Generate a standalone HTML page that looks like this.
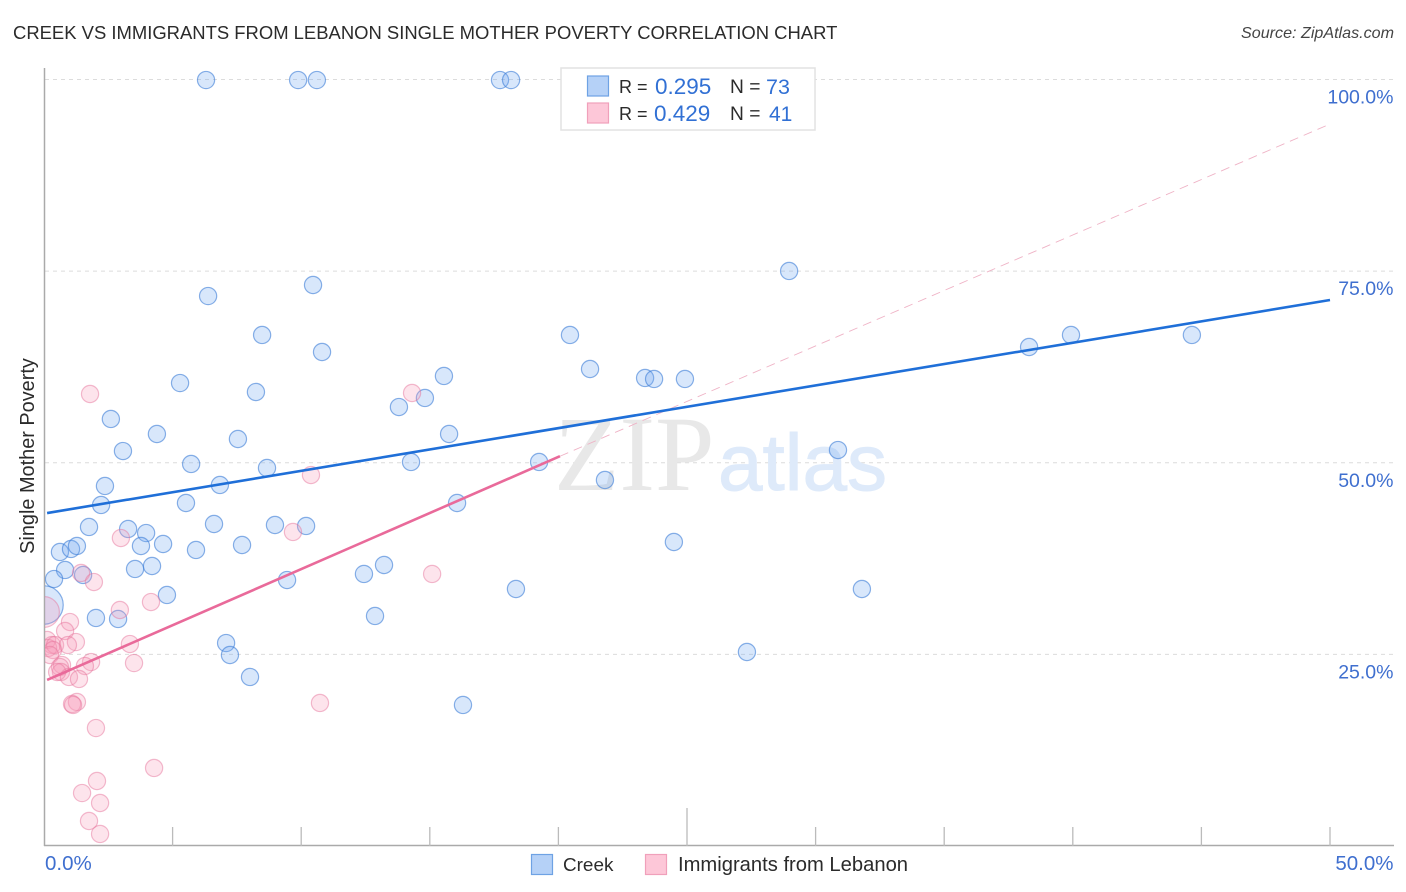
<!DOCTYPE html>
<html>
<head>
<meta charset="utf-8">
<title>Creek vs Immigrants from Lebanon Single Mother Poverty Correlation Chart</title>
<style>
html,body{margin:0;padding:0;background:#fff;}
body{width:1406px;height:892px;overflow:hidden;}
svg{display:block;font-family:"Liberation Sans",sans-serif;}
</style>
</head>
<body>
<svg id="chart" width="1406" height="892" viewBox="0 0 1406 892">
  <defs>
    <clipPath id="plot-clip"><rect x="45" y="60" width="1349" height="786"></rect></clipPath>
  </defs>
  <text x="13" y="39" font-size="18.45" fill="#2b2b2b">CREEK VS IMMIGRANTS FROM LEBANON SINGLE MOTHER POVERTY CORRELATION CHART</text>
  <text x="1394" y="38" font-size="16.1" font-style="italic" fill="#444" text-anchor="end">Source: ZipAtlas.com</text>
  <g id="grid"></g>
  <g>
    <text x="554" y="490" font-family="'Liberation Serif',serif" font-size="107" fill="#e8e8e8">ZIP</text>
    <text x="718" y="490" font-size="80" fill="#deeafa" stroke="#deeafa" stroke-width="1">atlas</text>
  </g>
  <g id="axes"></g>
  <text transform="translate(34 456) rotate(-90)" font-size="19.9" fill="#2b2b2b" text-anchor="middle">Single Mother Poverty</text>
  <g id="points" clip-path="url(#plot-clip)"></g>
  <g id="trends"></g>

  <g>
    <rect x="561" y="68" width="254" height="62" fill="#fff" stroke="#e2e2e2" stroke-width="1.5"></rect>
    <rect x="587.5" y="76" width="21" height="20" fill="#b5d1f7" stroke="#6ea2e4" stroke-width="1.2"></rect>
    <rect x="587.5" y="103" width="21" height="20" fill="#fdc7d8" stroke="#f0a0bb" stroke-width="1.2"></rect>
    <g font-size="19.2">
      <text x="619" y="93" font-size="18" fill="#2b2b2b">R =</text>
      <text x="655" y="94" font-size="22.5" fill="#3170d4">0.295</text>
      <text x="730" y="93" fill="#2b2b2b">N =</text>
      <text x="766" y="94" font-size="21.5" fill="#3170d4">73</text>
      <text x="619" y="120" font-size="18" fill="#2b2b2b">R =</text>
      <text x="654" y="121" font-size="22.5" fill="#3170d4">0.429</text>
      <text x="730" y="120" fill="#2b2b2b">N =</text>
      <text x="769" y="121" font-size="21" fill="#3170d4">41</text>
    </g>
  </g>

  <g>
    <rect x="531.5" y="854.5" width="21" height="20" fill="#b5d1f7" stroke="#6ea2e4" stroke-width="1.2"></rect>
    <text x="563" y="871" font-size="18.9" fill="#2b2b2b">Creek</text>
    <rect x="645.5" y="854.5" width="21" height="20" fill="#fdc7d8" stroke="#f0a0bb" stroke-width="1.2"></rect>
    <text x="678" y="871" font-size="20.2" fill="#2b2b2b">Immigrants from Lebanon</text>
  </g>
</svg>

<script>
var yTickValues = [25, 50, 75, 100];
var yTickLabels = ["25.0%", "50.0%", "75.0%", "100.0%"];
var xTickValues = [0, 5, 10, 15, 20, 25, 30, 35, 40, 45, 50];
var xEndValues = [0, 50];
var xEndLabels = ["0.0%", "50.0%"];

var creekX = [6.30,9.88,10.61,17.73,18.16,6.38,10.46,8.48,10.81,5.29,8.24,2.60,4.39,3.07,5.72,7.54,8.67,2.37,6.84,5.52,2.22,1.75,3.27,3.97,6.61,8.98,10.19,3.77,4.63,7.70,5.91,0.62,1.05,1.28,0.82,0.39,1.52,3.54,4.20,4.78,9.45,12.44,13.22,12.87,2.02,2.88,7.08,7.23,8.01,16.29,13.80,14.81,15.55,15.75,14.27,16.06,19.25,21.81,18.35,20.45,21.23,23.37,23.72,24.92,28.97,30.87,24.49,27.33,31.80,38.30,39.93,44.63];
var creekY = [99.93,99.93,99.93,99.93,99.93,71.75,73.19,66.67,64.45,60.40,59.23,55.71,53.75,51.53,49.84,53.10,49.32,46.97,47.10,44.75,44.49,41.62,41.36,40.83,42.01,41.88,41.75,39.14,39.40,39.27,38.62,38.36,38.75,39.14,36.01,34.83,35.36,36.14,36.53,32.75,34.70,35.49,36.66,30.01,29.75,29.62,26.48,24.92,22.05,18.40,57.27,58.45,61.32,53.75,50.10,44.75,50.10,47.75,33.53,66.67,62.23,61.06,60.93,60.93,75.02,51.66,39.66,25.31,33.53,65.10,66.67,66.67];
var creekLargeX = [0];
var creekLargeY = [31.44];
var creekLargeWeight = [5];

var lebanonX = [1.79,14.31,10.38,9.68,2.99,15.09,1.44,1.94,2.95,4.16,1.01,0.82,0.12,0.31,1.24,3.34,0.16,0.43,0.93,0.35,0.23,1.83,3.50,1.59,0.70,0.62,0.66,0.51,0.97,1.36,1.28,1.09,1.13,2.02,4.28,2.06,1.48,2.18,1.75,2.18,10.73];
var lebanonY = [58.97,59.10,48.40,40.97,40.18,35.49,35.62,34.44,30.79,31.83,29.22,28.05,26.88,26.22,26.61,26.35,25.83,26.22,26.22,25.57,24.92,24.00,23.87,23.48,23.61,23.35,22.70,22.70,22.05,21.79,18.79,18.53,18.40,15.39,10.18,8.48,6.91,5.61,3.26,1.57,18.66];
var lebanonLargeX = [0];
var lebanonLargeY = [30.53];
var lebanonLargeWeight = [3.2];

var creekTrendX = [0.12, 50];
var creekTrendY = [43.44, 71.23];
var lebanonTrendX = [0.12, 20.06];
var lebanonTrendY = [21.66, 50.85];
var lebanonProjectionX = [20.06, 50];
var lebanonProjectionY = [50.85, 94.19];

var NS = "http://www.w3.org/2000/svg";
function xScale(v) { return 44 + v * 25.72; }
function yScale(v) { return 846 - v * 7.665; }
function make(tag, attrs, parent, text) {
  var el = document.createElementNS(NS, tag);
  for (var k in attrs) el.setAttribute(k, attrs[k]);
  if (text !== undefined) el.textContent = text;
  parent.appendChild(el);
  return el;
}
var gridG = document.getElementById("grid");
var axesG = document.getElementById("axes");
var pointsG = document.getElementById("points");
var trendsG = document.getElementById("trends");

yTickValues.forEach(function (v, i) {
  var line = make("line", {x1: 45, x2: 1394, y1: yScale(v), y2: yScale(v), stroke: "#dcdcdc", "stroke-width": 1, "stroke-dasharray": "4 4"}, gridG);
  
  
  var label = make("text", {x: 1393.5, y: yScale(v) + 24, "font-size": 19.5, fill: "#3f6fcf", "text-anchor": "end"}, axesG, yTickLabels[i]);
  
  
});

var yAxis = make("line", {x1: 44.5, x2: 44.5, y1: 68, y2: 846, stroke: "#aaaaaa", "stroke-width": 1.5}, axesG);


var xAxis = make("line", {x1: 44, x2: 1394, y1: 845.5, y2: 845.5, stroke: "#aaaaaa", "stroke-width": 1.5}, axesG);



xTickValues.forEach(function (v) {
  if (v === 0) return;
  var top = v === 25 ? 808 : 827;
  var tick = make("line", {x1: xScale(v), x2: xScale(v), y1: top, y2: 846, stroke: "#bbbbbb", "stroke-width": 1.3}, axesG);
  
  
});

xEndValues.forEach(function (v, i) {
  var lab = make("text", {x: i === 0 ? xScale(v) + 1 : xScale(v) + 63.5, y: 870, "font-size": 20.5, fill: "#3f6fcf", "text-anchor": i === 0 ? "start" : "end"}, axesG, xEndLabels[i]);
  
  
});

function dot(x, y, weight, fill, stroke) {
  var c = make("circle", {cx: xScale(x), cy: yScale(y), r: 8.6 * Math.sqrt(weight), fill: fill, stroke: stroke, "stroke-width": 1.2}, pointsG);
  return c;
}
var creekFill = "rgba(115,170,240,0.28)", creekStroke = "rgba(60,125,215,0.6)";
var lebanonFill = "rgba(248,155,185,0.27)", lebanonStroke = "rgba(230,115,155,0.48)";

creekLargeX.forEach(function (x, i) {
  var c = dot(x, creekLargeY[i], creekLargeWeight[i], creekFill, creekStroke);
  
  
});
creekX.forEach(function (x, i) {
  var c = dot(x, creekY[i], 1, creekFill, creekStroke);
  
  
});
lebanonLargeX.forEach(function (x, i) {
  var c = dot(x, lebanonLargeY[i], lebanonLargeWeight[i], lebanonFill, lebanonStroke);
  
  
});
lebanonX.forEach(function (x, i) {
  var c = dot(x, lebanonY[i], 1, lebanonFill, lebanonStroke);
  
  
});

var projection = make("line", {x1: xScale(lebanonProjectionX[0]), y1: yScale(lebanonProjectionY[0]), x2: xScale(lebanonProjectionX[1]), y2: yScale(lebanonProjectionY[1]), stroke: "#efb3c6", "stroke-width": 0.9, "stroke-dasharray": "9 6"}, trendsG);


var creekLine = make("line", {x1: xScale(creekTrendX[0]), y1: yScale(creekTrendY[0]), x2: xScale(creekTrendX[1]), y2: yScale(creekTrendY[1]), stroke: "#1f6fd8", "stroke-width": 2.6}, trendsG);


var lebanonLine = make("line", {x1: xScale(lebanonTrendX[0]), y1: yScale(lebanonTrendY[0]), x2: xScale(lebanonTrendX[1]), y2: yScale(lebanonTrendY[1]), stroke: "#e96a9a", "stroke-width": 2.6}, trendsG);


</script>
</body>
</html>
